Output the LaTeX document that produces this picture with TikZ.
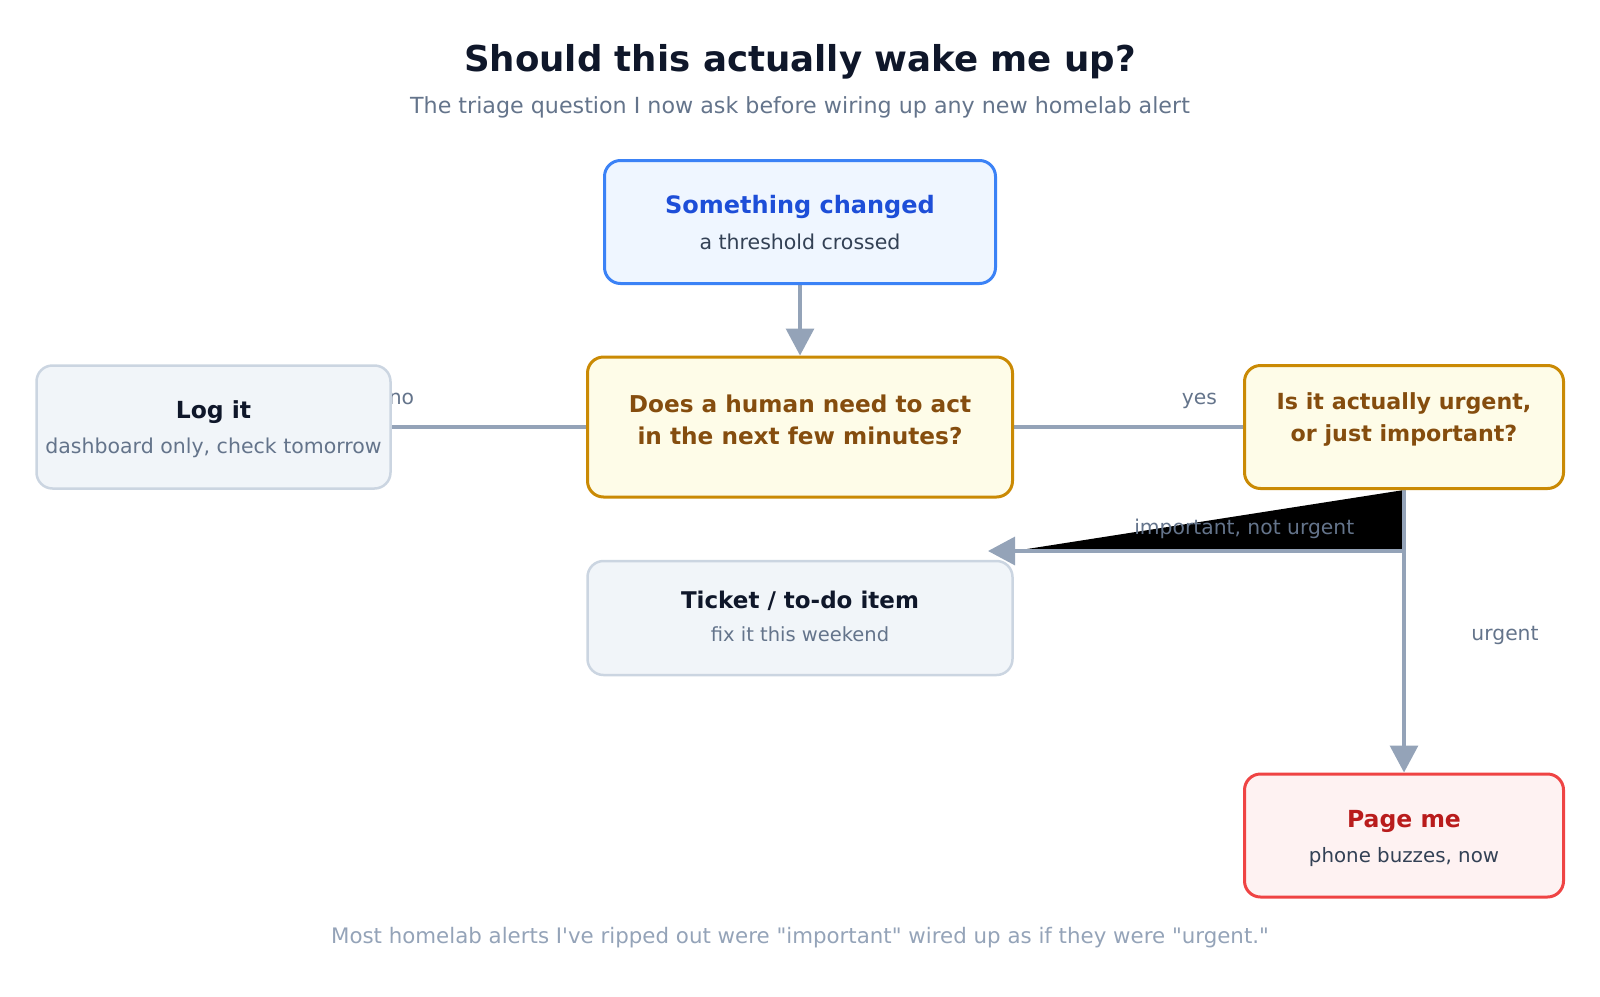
\documentclass[tikz,border=0pt]{standalone}
\usepackage{fontspec}
\setmainfont{DejaVu Sans}
\newfontfamily\plainfont{DejaVu Sans}
\usetikzlibrary{arrows.meta}
\pgfdeclarelayer{background}
\pgfsetlayers{background,main}

\definecolor{ink}{HTML}{0F172A}
\definecolor{muted}{HTML}{64748B}
\definecolor{faint}{HTML}{94A3B8}
\definecolor{slate}{HTML}{334155}
\definecolor{edgec}{HTML}{94A3B8}
\definecolor{blueline}{HTML}{3B82F6}
\definecolor{bluefill}{HTML}{EFF6FF}
\definecolor{bluetext}{HTML}{1D4ED8}
\definecolor{askline}{HTML}{CA8A04}
\definecolor{askfill}{HTML}{FEFCE8}
\definecolor{asktext}{HTML}{854D0E}
\definecolor{calmline}{HTML}{CBD5E1}
\definecolor{calmfill}{HTML}{F1F5F9}
\definecolor{redline}{HTML}{EF4444}
\definecolor{redfill}{HTML}{FEF2F2}
\definecolor{redtext}{HTML}{B91C1C}

% struts that fix where the two text lines sit in a box
\newcommand{\headroom}{\rule{0pt}{30pt}}
\newcommand{\footroom}[1]{\rule[-#1pt]{0pt}{#1pt}}

\begin{document}
\begin{tikzpicture}[
    x=1pt, y=-1pt,
    box/.style={rectangle, rounded corners=16pt, line width=3pt, align=center, inner sep=0pt},
    start box/.style={box, draw=blueline, fill=bluefill},
    ask box/.style={box, draw=askline, fill=askfill, text=asktext, font=\bfseries\fontsize{23.2}{31.5}\selectfont},
    calm box/.style={box, draw=calmline, fill=calmfill, line width=2.5pt, text=muted},
    page box/.style={box, draw=redline, fill=redfill},
    arrow edge/.style={line width=3.2pt, draw=edgec, -{Triangle[length=27pt, width=28pt, color=edgec]}},
    plain edge/.style={line width=3.2pt, draw=edgec},
    edge label/.style={anchor=base, inner sep=0pt, text=muted, font=\fontsize{20.3}{24}\selectfont}
]
\useasboundingbox (0,0) rectangle (1600,996);

% titles
\node[font=\bfseries\fontsize{35.6}{42}\selectfont, text=ink] (title) at (800,62) {Should this actually wake me up?};
\node[font=\fontsize{22.2}{26}\selectfont, text=muted] (subtitle) at (800,107) {The triage question I now ask before wiring up any new homelab alert};

% boxes
\node[start box, minimum width=391pt, minimum height=123pt, font=\fontsize{20.5}{36}\selectfont] (changed) at (800,222)
    {\headroom{\bfseries\fontsize{24}{36}\selectfont\color{bluetext}Something changed}\\\color{slate}a threshold crossed\footroom{11}};
\node[ask box, minimum width=425pt, minimum height=140pt] (human) at (800,427)
    {\headroom Does a human need to act\\in the next few minutes?\footroom{26.9}};
\node[ask box, minimum width=319pt, minimum height=123pt, font=\bfseries\fontsize{22.2}{31.5}\selectfont] (urgent) at (1404,427)
    {\headroom Is it actually urgent,\\or just important?\footroom{33.5}};
\node[calm box, minimum width=354pt, minimum height=123pt, font=\fontsize{20.5}{35}\selectfont] (logit) at (213.5,427)
    {\headroom{\bfseries\fontsize{23.5}{35}\selectfont\color{ink}Log it}\\dashboard only, check tomorrow\footroom{12}};
\node[calm box, minimum width=425pt, minimum height=114pt, font=\fontsize{19.5}{33}\selectfont] (ticket) at (800,618)
    {\headroom{\bfseries\fontsize{23}{33}\selectfont\color{ink}Ticket / to-do item}\\fix it this weekend\footroom{16.6}};
\node[page box, minimum width=319pt, minimum height=123pt, font=\fontsize{19.8}{35}\selectfont] (page) at (1404,835.5)
    {\headroom{\bfseries\fontsize{23.5}{35}\selectfont\color{redtext}Page me}\\\color{slate}phone buzzes, now\footroom{11.4}};
\coordinate (ticketin) at (988,551);

% connectors behind the boxes
\begin{pgfonlayer}{background}
\draw[arrow edge] (changed) -- (human);
\draw[plain edge] (human.west) -- (logit.east) node[edge label, pos=0.95, yshift=23pt] {no};
\draw[plain edge] (human.east) -- (urgent.west) node[edge label, pos=0.81, yshift=23pt] {yes};
\draw[arrow edge, fill=black] (urgent.south) |- (ticketin) node[edge label, pos=0.692, yshift=17pt] {important, not urgent};
\draw[arrow edge] (urgent.south) -- (page.north) node[edge label, pos=0.531, xshift=101pt] {urgent};
\end{pgfonlayer}

\node[font=\plainfont\fontsize{21.35}{25}\selectfont, text=faint] (footnote) at (800,938)
    {Most homelab alerts I've ripped out were "important" wired up as if they were "urgent."};

\end{tikzpicture}
\end{document}
